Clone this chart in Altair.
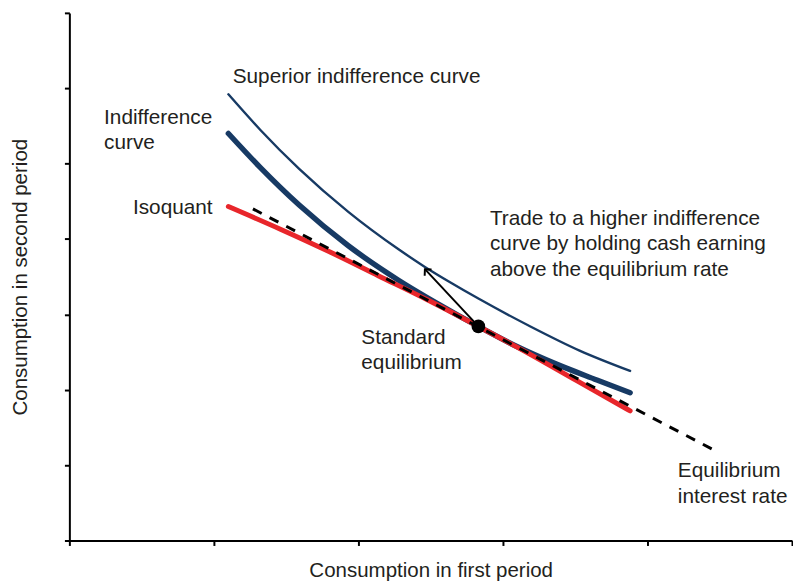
import altair as alt
import pandas as pd

# Superior indifference curve (thin navy)
sup_x = [1.10, 1.32, 1.59, 1.93, 2.28, 2.46, 2.64, 2.83, 3.19, 3.53, 3.88]
sup_y = [5.92, 5.45, 4.93, 4.36, 3.86, 3.63, 3.42, 3.21, 2.84, 2.52, 2.25]

# Indifference curve (thick navy)
ind_x = [1.10, 1.32, 1.59, 1.93, 2.28, 2.55, 2.83, 3.10, 3.37, 3.65, 3.88]
ind_y = [5.40, 4.95, 4.45, 3.91, 3.45, 3.14, 2.84, 2.57, 2.34, 2.13, 1.96]

# Isoquant (red)
iso_x = [1.10, 1.46, 1.80, 2.14, 2.48, 2.83, 3.17, 3.51, 3.88]
iso_y = [4.43, 4.13, 3.83, 3.51, 3.19, 2.84, 2.49, 2.12, 1.72]

# Equilibrium interest rate (dashed)
rate_x = [1.27, 4.45]
rate_y = [4.40, 1.21]

# Standard equilibrium point and arrow to the higher curve
eq_x, eq_y = 2.83, 2.84
arrow_tip_x, arrow_tip_y = 2.46, 3.60

labels = [
    "Superior indifference curve",
    "Indifference\ncurve",
    "Isoquant",
    "Trade to a higher indifference\ncurve by holding cash earning\nabove the equilibrium rate",
    "Standard\nequilibrium",
    "Equilibrium\ninterest rate",
]
label_x = [1.13, 0.24, 0.44, 2.91, 2.02, 4.21]
label_y = [6.15, 5.61, 4.41, 4.27, 2.69, 0.92]

x_ticks = [0, 1, 2, 3, 4, 5]
y_ticks = [0, 1, 2, 3, 4, 5, 6, 7]

FONT = "Liberation Sans"
TXT = "#231f20"
NAVY = "#173a64"
RED = "#e8262b"

axis_common = dict(labels=False, grid=False, domainColor="black", domainWidth=2,
                   tickColor="black", tickWidth=2, tickSize=5,
                   titleFont=FONT, titleFontSize=20.7, titleFontWeight="normal",
                   titleColor=TXT)

X = alt.X("x:Q", scale=alt.Scale(domain=[0, 5], nice=False, zero=False),
          axis=alt.Axis(values=x_ticks, title="Consumption in first period",
                        titlePadding=14, **axis_common))
Y = alt.Y("y:Q", scale=alt.Scale(domain=[0, 7], nice=False, zero=False),
          axis=alt.Axis(values=y_ticks, title="Consumption in second period",
                        titlePadding=33, **axis_common))

sup_df = pd.DataFrame({"x": sup_x, "y": sup_y})
ind_df = pd.DataFrame({"x": ind_x, "y": ind_y})
iso_df = pd.DataFrame({"x": iso_x, "y": iso_y})
rate_df = pd.DataFrame({"x": rate_x, "y": rate_y})
arrow_df = pd.DataFrame({"x": [eq_x, arrow_tip_x], "y": [eq_y, arrow_tip_y]})
tip_df = pd.DataFrame({"x": [arrow_tip_x], "y": [arrow_tip_y]})
eq_df = pd.DataFrame({"x": [eq_x], "y": [eq_y]})
lab_df = pd.DataFrame({"x": label_x, "y": label_y, "label": labels})

ind = alt.Chart(ind_df).mark_line(color=NAVY, strokeWidth=5.5, strokeCap="round",
                                  interpolate="monotone").encode(x=X, y=Y)
sup = alt.Chart(sup_df).mark_line(color=NAVY, strokeWidth=2.4, strokeCap="round",
                                  interpolate="monotone").encode(x=X, y=Y)
iso = alt.Chart(iso_df).mark_line(color=RED, strokeWidth=5, strokeCap="round",
                                  interpolate="monotone").encode(x=X, y=Y)
rate = alt.Chart(rate_df).mark_line(color="black", strokeWidth=3,
                                    strokeDash=[10, 9]).encode(x=X, y=Y)
arrow = alt.Chart(arrow_df).mark_line(color="black", strokeWidth=2).encode(x=X, y=Y)
tip = alt.Chart(tip_df).mark_point(shape="M-1,1L0,0L1,1", filled=False, size=90,
                                   strokeWidth=2, color="black", opacity=1,
                                   angle=317).encode(x=X, y=Y)
eq = alt.Chart(eq_df).mark_circle(size=190, color="black", opacity=1).encode(x=X, y=Y)
text = alt.Chart(lab_df).mark_text(align="left", baseline="middle", lineBreak="\n",
                                   lineHeight=26, fontSize=21, font=FONT,
                                   color=TXT).encode(x=X, y=Y, text="label:N")

chart = alt.layer(ind, sup, iso, rate, arrow, tip, eq, text).properties(
    width=730, height=533,
    padding={"left": 62, "top": 2, "right": 1, "bottom": 40},
    autosize="none",
).configure_view(stroke=None)

chart.save("out.html", embed_options={"renderer": "svg", "actions": False})
